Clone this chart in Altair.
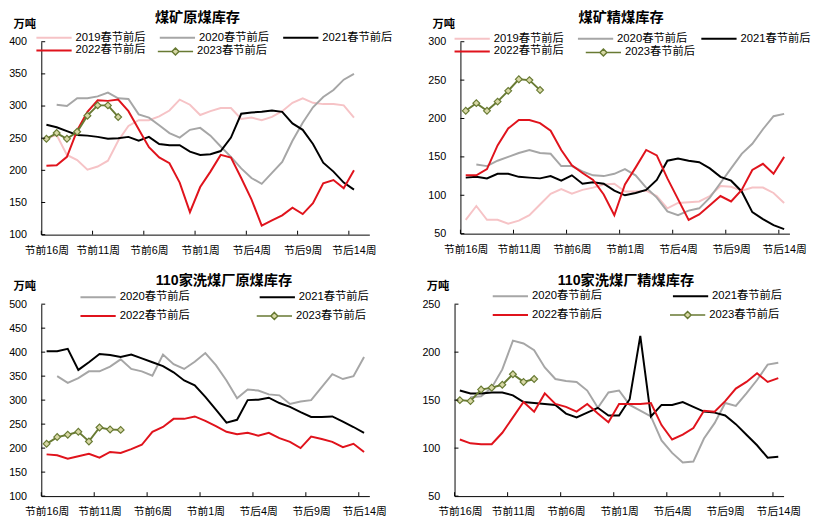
import altair as alt
import pandas as pd

FONT = "Liberation Sans, Noto Sans CJK SC, sans-serif"

tick_labels = ["节前16周", "节前11周", "节前6周", "节前1周", "节后4周", "节后9周", "节后14周"]
tick_pos = [0, 5, 10, 15, 20, 25, 30]

S19, S20, S21, S22, S23 = "2019春节前后", "2020春节前后", "2021春节前后", "2022春节前后", "2023春节前后"

# 煤矿原煤库存
p1_2019 = [250, 255, 224, 216, 201, 206, 215, 246, 269, 278, 278, 284, 293, 310, 302, 286, 292, 297, 297, 280, 282, 278, 283, 292, 305, 312, 305, 303, 303, 301, 282]
p1_2020 = [None, 302, 300, 312, 312, 315, 321, 312, 311, 287, 282, 270, 258, 251, 263, 266, 254, 237, 221, 203, 188, 179, 196, 213, 246, 274, 298, 314, 325, 341, 350]
p1_2021 = [271, 267, 261, 255, 254, 252, 249, 250, 252, 246, 252, 241, 239, 239, 229, 224, 225, 230, 251, 288, 290, 291, 293, 291, 273, 263, 241, 212, 198, 181, 170]
p1_2022 = [207, 208, 221, 262, 291, 309, 308, 310, 292, 264, 236, 220, 211, 181, 135, 174, 198, 224, 220, 188, 155, 114, 122, 130, 142, 132, 149, 180, 185, 172, 200]
p1_2023 = [249, 258, 249, 260, 285, 301, 301, 283]

# 煤矿精煤库存
p2_2019 = [68, 86, 68, 68, 63, 67, 74, 88, 102, 108, 102, 107, 110, 114, 115, 105, 105, 106, 99, 83, 90, 91, 92, 99, 112, 111, 106, 110, 110, 103, 90]
p2_2020 = [None, 140, 138, 145, 150, 155, 159, 155, 154, 138, 138, 131, 126, 125, 128, 134, 126, 110, 97, 79, 74, 80, 83, 97, 116, 135, 154, 167, 186, 203, 206]
p2_2021 = [123, 124, 122, 128, 128, 124, 123, 122, 125, 119, 126, 115, 117, 115, 106, 100, 103, 107, 120, 145, 148, 145, 143, 135, 124, 119, 105, 78, 69, 61, 56]
p2_2022 = [126, 126, 134, 165, 187, 198, 198, 194, 184, 159, 139, 129, 120, 101, 74, 114, 136, 159, 152, 122, 95, 68, 75, 87, 99, 92, 107, 133, 141, 128, 150]
p2_2023 = [210, 220, 210, 222, 236, 251, 250, 237]

# 110家洗煤厂原煤库存
p3_2020 = [None, 350, 336, 346, 360, 360, 370, 385, 365, 360, 351, 395, 375, 365, 380, 398, 373, 341, 304, 322, 320, 312, 310, 292, 297, 300, 327, 354, 344, 350, 390]
p3_2021 = [402, 402, 407, 363, 379, 396, 394, 390, 395, 387, 379, 371, 358, 341, 331, 307, 280, 253, 259, 300, 301, 305, 294, 286, 275, 265, 265, 266, 255, 244, 232]
p3_2022 = [187, 185, 178, 183, 188, 180, 192, 190, 198, 207, 234, 244, 261, 261, 266, 257, 246, 234, 229, 232, 226, 232, 221, 213, 200, 224, 219, 213, 202, 209, 192]
p3_2023 = [209, 223, 228, 234, 214, 243, 239, 238]

# 110家洗煤厂精煤库存
p4_2020 = [None, 153, 154, 163, 182, 212, 209, 202, 184, 172, 170, 169, 160, 142, 158, 160, 145, 139, 133, 108, 95, 85, 86, 110, 126, 147, 144, 157, 171, 187, 189]
p4_2021 = [160, 157, 157, 158, 158, 155, 148, 147, 146, 145, 136, 132, 137, 142, 134, 134, 151, 217, 133, 145, 145, 148, 143, 138, 137, 134, 125, 114, 103, 90, 91]
p4_2022 = [109, 105, 104, 104, 116, 132, 148, 138, 157, 146, 143, 138, 146, 136, 127, 146, 146, 146, 147, 124, 109, 114, 121, 139, 138, 149, 162, 169, 178, 169, 173]
p4_2023 = [150, 149, 161, 163, 166, 177, 169, 172]

COLORS = {S19: "#f6c3c6", S20: "#a6a6a6", S21: "#000000", S22: "#e0131c"}
OLIVE = "#687a33"
DIAMOND_FILL = "#d8d8a6"

label_expr = "[" + ",".join("'%s'" % t for t in tick_labels) + "][round(datum.value/5)]"


def panel(title, series, s2023, ydom, n, width, height, leg, leg2, title_dx):
    rows = []
    for name, vals in series:
        for i, v in enumerate(vals):
            if v is not None:
                rows.append({"w": i, "v": v, "s": name})
    df = pd.DataFrame(rows)
    df23 = pd.DataFrame({"w": list(range(len(s2023))), "v": s2023, "s": [S23] * len(s2023)})
    names = [s for s, _ in series]

    xscale = alt.Scale(domain=[-0.5, n - 0.5], nice=False, zero=False)
    yscale = alt.Scale(domain=ydom, nice=False, zero=False)
    yvals = list(range(ydom[0], ydom[1] + 1, 50))

    xaxis = alt.Axis(values=tick_pos, labelExpr=label_expr, ticks=False, grid=False,
                     labelPadding=10, labelFontSize=11, labelFlush=False, labelOverlap=False,
                     domainColor="#000", labelColor="#000", title=None)
    yaxis = alt.Axis(values=yvals, ticks=False, grid=False, labelPadding=15,
                     labelOverlap=False, labelFlush=False,
                     labelFontSize=11, domainColor="#000", labelColor="#000",
                     title="万吨", titleAngle=0, titleX=-29, titleY=-18,
                     titleAlign="left", titleBaseline="middle",
                     titleFontWeight="bold", titleFontSize=11.5, titleFont=FONT)

    def X(f):
        return alt.X(f + ":Q", scale=xscale, axis=xaxis, title=None)

    def Y(f):
        return alt.Y(f + ":Q", scale=yscale, axis=yaxis, title="万吨")

    lines = alt.Chart(df).mark_line(strokeWidth=2).encode(
        x=X("w"), y=Y("v"),
        color=alt.Color("s:N", scale=alt.Scale(domain=names, range=[COLORS[s] for s in names]),
                        legend=alt.Legend(title=None, orient="none", legendX=leg[0], legendY=leg[1],
                                          direction="horizontal", columns=leg[2],
                                          columnPadding=leg[3], rowPadding=leg[4],
                                          symbolType="stroke", symbolSize=1296,
                                          symbolStrokeWidth=2, clipHeight=12, padding=0,
                                          labelFont=FONT, labelFontSize=11.5, labelOffset=3,
                                          labelColor="#000"))
    )
    line23 = alt.Chart(df23).mark_line(strokeWidth=2).encode(
        x=X("w"), y=Y("v"),
        stroke=alt.Stroke("s:N", scale=alt.Scale(domain=[S23], range=[OLIVE]),
                          legend=alt.Legend(title=None, orient="none", legendX=leg2[0], legendY=leg2[1],
                                            symbolType="M-1,0H-0.2M0.2,0H1M0,-0.2L0.2,0L0,0.2L-0.2,0Z",
                                            symbolSize=1296, symbolStrokeWidth=1.5,
                                            symbolFillColor=DIAMOND_FILL, clipHeight=12, padding=0,
                                            labelFont=FONT, labelFontSize=11.5, labelOffset=3,
                                            labelColor="#000"))
    )
    pts23 = alt.Chart(df23).mark_point(shape="diamond", filled=True, fill=DIAMOND_FILL,
                                       stroke=OLIVE, strokeWidth=1.2, size=48, opacity=1).encode(
        x=X("w"), y=Y("v")
    )
    xt = pd.DataFrame({"w": [p - 0.5 for p in tick_pos]})
    xticks = alt.Chart(xt).mark_rule(color="#000", strokeWidth=1).encode(
        x=X("w"), y=alt.value(height), y2=alt.value(height - 4)
    )
    yt = pd.DataFrame({"v": yvals})
    yticks = alt.Chart(yt).mark_rule(color="#000", strokeWidth=1).encode(
        y=Y("v"), x=alt.value(0), x2=alt.value(4)
    )
    return alt.layer(lines, line23, pts23, xticks, yticks).properties(
        width=width, height=height,
        title=alt.TitleParams(title, font=FONT, fontSize=14.5, fontWeight="bold", anchor="middle",
                              frame="group", dx=title_dx, offset=-7.5, color="#000")
    )


p1 = panel("煤矿原煤库存", [(S19, p1_2019), (S20, p1_2020), (S21, p1_2021), (S22, p1_2022)], p1_2023,
           [100, 400], 32, 335, 197, (-6, -10, 3, 13, 1), (118, 4), -8)
p2 = panel("煤矿精煤库存", [(S19, p2_2019), (S20, p2_2020), (S21, p2_2021), (S22, p2_2022)], p2_2023,
           [50, 300], 31, 336, 196, (-7, -9, 3, 13, 1), (127, 5), -4)
p3 = panel("110家洗煤厂原煤库存", [(S20, p3_2020), (S21, p3_2021), (S22, p3_2022)], p3_2023,
           [100, 500], 31, 335, 196, (39, -13, 2, 70, 7), (219, 6), 19)
p4 = panel("110家洗煤厂精煤库存", [(S20, p4_2020), (S21, p4_2021), (S22, p4_2022)], p4_2023,
           [50, 250], 31, 336, 196, (38, -14, 2, 71, 7), (219, 5), 7)

chart = alt.vconcat(
    alt.hconcat(p1, p2, spacing=35).resolve_scale(color="independent", stroke="independent"),
    alt.hconcat(p3, p4, spacing=35).resolve_scale(color="independent", stroke="independent"),
    spacing=18,
).resolve_scale(color="independent", stroke="independent").properties(
    padding={"top": -3, "left": 0, "right": 0, "bottom": 0}, background="white"
).configure_view(stroke=None).configure_axis(labelFont=FONT, domainWidth=1, labelOverlap=False)

chart.save("out.html", embed_options={"renderer": "svg", "actions": False})
